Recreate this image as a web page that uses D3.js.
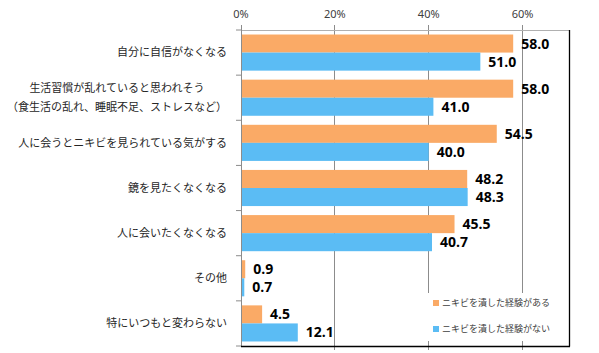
<!DOCTYPE html>
<html><head><meta charset="utf-8">
<script src="https://cdn.jsdelivr.net/npm/d3@7"></script>
<style>body{margin:0;background:#fff}svg{display:block}</style>
</head><body>
<svg id="c" width="599" height="353"></svg>
<script>
const categories = [
  ["自分に自信がなくなる"],
  ["生活習慣が乱れていると思われそう", "（食生活の乱れ、睡眠不足、ストレスなど）"],
  ["人に会うとニキビを見られている気がする"],
  ["鏡を見たくなくなる"],
  ["人に会いたくなくなる"],
  ["その他"],
  ["特にいつもと変わらない"]
];
const seriesNames = ["ニキビを潰した経験がある", "ニキビを潰した経験がない"];
const seriesA = [58.0, 58.0, 54.5, 48.2, 45.5, 0.9, 4.5];
const seriesB = [51.0, 41.0, 40.0, 48.3, 40.7, 0.7, 12.1];
const tickValues = [0, 20, 40, 60];
const tickLabels = ["0%", "20%", "40%", "60%"];
const colors = ["#FAAA66", "#5BBCF4"];

const svg = d3.select("#c");
const jp = "'Noto Sans CJK JP', 'Noto Sans', sans-serif";
const x = d3.scaleLinear().domain([0, 70]).range([241, 569.5]);
const idx = categories.map((d, i) => i);
const y = d3.scaleBand().domain(idx).range([30, 346]).paddingInner(0.2).paddingOuter(0.1);
const ys = d3.scaleBand().domain([0, 1]).range([0, y.bandwidth()]);
const step = y.step();

// gridlines
svg.append("g").selectAll("line").data(tickValues.slice(1)).join("line")
  .attr("x1", d => x(d)).attr("x2", d => x(d)).attr("y1", 25).attr("y2", 350)
  .attr("stroke", "#8c8c8c").attr("stroke-width", 1).attr("shape-rendering", "crispEdges");
// top border
svg.append("line").attr("x1", x(0)).attr("x2", 570).attr("y1", 30.5).attr("y2", 30.5)
  .attr("stroke", "#b0b0b0");
// top tick labels
svg.append("g").selectAll("text").data(tickValues).join("text")
  .attr("x", d => x(d)).attr("y", 18).attr("text-anchor", "middle")
  .attr("font-family", "'Noto Sans', sans-serif").attr("font-size", 11).attr("fill", "#404040")
  .text((d, i) => tickLabels[i]);

// legend background
svg.append("rect").attr("x", 424).attr("y", 293).attr("width", 144).attr("height", 48).attr("fill", "#fff");

// bars
const series = [seriesA, seriesB];
series.forEach((s, si) => {
  svg.append("g").selectAll("rect").data(s).join("rect")
    .attr("x", x(0)).attr("y", (d, i) => y(i) + ys(si))
    .attr("width", d => x(d) - x(0)).attr("height", ys.bandwidth())
    .attr("fill", colors[si]);
  svg.append("g").selectAll("text").data(s).join("text")
    .attr("x", d => x(d) + 8).attr("y", (d, i) => y(i) + ys(si) + ys.bandwidth() / 2)
    .attr("dy", "0.36em")
    .attr("font-family", "'Open Sans', 'Noto Sans', sans-serif").attr("font-weight", "bold")
    .attr("font-size", 14).attr("fill", "#000")
    .text(d => d.toFixed(1));
});

// left axis
svg.append("line").attr("x1", 241.5).attr("x2", 241.5).attr("y1", 25).attr("y2", 346)
  .attr("stroke", "#8c8c8c");
svg.append("g").selectAll("line").data(d3.range(categories.length + 1)).join("line")
  .attr("x1", 236).attr("x2", 241).attr("y1", d => 30 + d * step).attr("y2", d => 30 + d * step)
  .attr("stroke", "#8c8c8c");
// right border and bottom axis
svg.append("line").attr("x1", 569.5).attr("x2", 569.5).attr("y1", 30).attr("y2", 346.5)
  .attr("stroke", "#000").attr("stroke-width", 1.3);
svg.append("line").attr("x1", 241).attr("x2", 570).attr("y1", 346.5).attr("y2", 346.5)
  .attr("stroke", "#000").attr("stroke-width", 1.3);

// category labels
const lab = svg.append("g");
categories.forEach((lines, i) => {
  const cy = y(i) + y.bandwidth() / 2;
  const g = lab.append("g");
  const lh = 19.5;
  const ts = lines.map((t, k) => g.append("text")
    .attr("y", cy + (k - (lines.length - 1) / 2) * lh).attr("dy", "0.35em")
    .attr("font-family", jp).attr("font-size", 11).attr("fill", "#262626").text(t));
  const maxW = d3.max(ts, t => t.node().getComputedTextLength());
  ts.forEach(t => t.attr("text-anchor", "middle").attr("x", 227 - maxW / 2));
});

// legend
seriesNames.forEach((n, i) => {
  const ly = 303 + i * 26;
  svg.append("rect").attr("x", 433).attr("y", ly - 3).attr("width", 6).attr("height", 6).attr("fill", colors[i]);
  svg.append("text").attr("x", 442).attr("y", ly).attr("dy", "0.35em")
    .attr("font-family", jp).attr("font-size", 9).attr("fill", "#404040").text(n);
});
</script>
</body></html>
